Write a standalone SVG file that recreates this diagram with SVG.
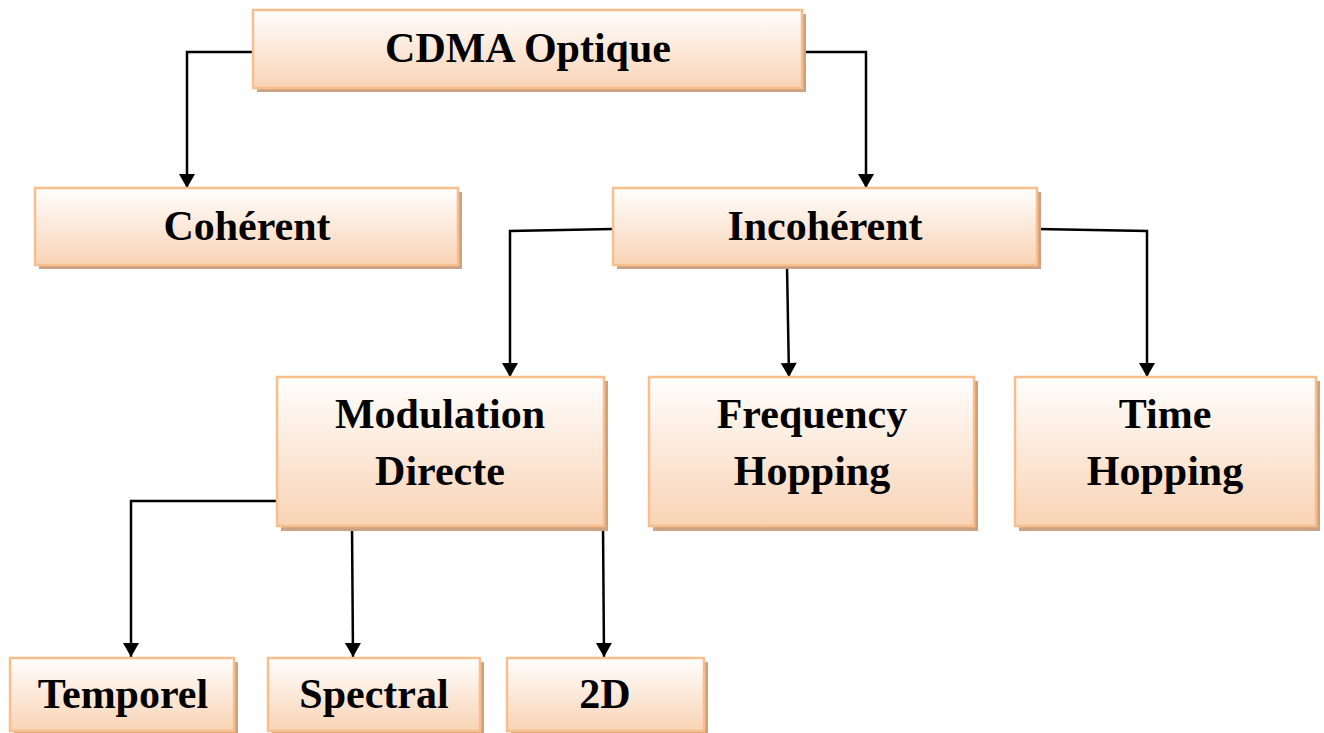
<svg xmlns="http://www.w3.org/2000/svg" width="1324" height="733" viewBox="0 0 1324 733">
  <defs>
    <linearGradient id="peach" x1="0" y1="0" x2="0" y2="1">
      <stop offset="0" stop-color="#fffefd"/>
      <stop offset="1" stop-color="#f9d3b5"/>
    </linearGradient>
    <marker id="arrow" markerUnits="userSpaceOnUse" markerWidth="16" markerHeight="18" viewBox="0 -9 15 18" refX="14" refY="0" orient="auto">
      <path d="M0,-8 L14,0 L0,8 z" fill="#000"/>
    </marker>
    <style>
      .shadow { fill: #cda283; }
      .box { fill: url(#peach); stroke: #f8bf8d; stroke-width: 2.5; }
      .label { font-family: "Liberation Serif", "Times New Roman", serif; font-weight: bold; font-size: 42px; fill: #000; text-anchor: middle; }
      .link { fill: none; stroke: #000; stroke-width: 2.5; marker-end: url(#arrow); }
    </style>
  </defs>
  <rect width="1324" height="733" fill="#fff"/>

  <!-- connectors -->
  <g id="connectors">
    <polyline class="link" points="253,52 187,52 187,188"/>
    <polyline class="link" points="802,52 866,52 866,188"/>
    <polyline class="link" points="613,229 510,231 510,377"/>
    <polyline class="link" points="787,266 789,377"/>
    <polyline class="link" points="1037,229 1147,231 1147,377"/>
    <polyline class="link" points="277,501 131,501 131,657"/>
    <polyline class="link" points="352,525 353,657"/>
    <polyline class="link" points="603,525 604,657"/>
  </g>

  <g id="cdma-optique">
    <rect class="shadow" x="257" y="14" width="549" height="78"/>
    <rect class="box" x="253" y="10" width="549" height="78"/>
    <text class="label" x="528" y="62">CDMA Optique</text>
  </g>

  <g id="coherent">
    <rect class="shadow" x="39" y="192" width="423" height="77"/>
    <rect class="box" x="35" y="188" width="423" height="77"/>
    <text class="label" x="247" y="240">Cohérent</text>
  </g>

  <g id="incoherent">
    <rect class="shadow" x="617" y="192" width="424" height="77"/>
    <rect class="box" x="613" y="188" width="424" height="77"/>
    <text class="label" x="825" y="240">Incohérent</text>
  </g>

  <g id="modulation-directe">
    <rect class="shadow" x="281" y="381" width="327" height="150"/>
    <rect class="box" x="277" y="377" width="327" height="149"/>
    <text class="label" x="440" y="428">Modulation</text>
    <text class="label" x="440" y="485">Directe</text>
  </g>

  <g id="frequency-hopping">
    <rect class="shadow" x="653" y="381" width="325" height="150"/>
    <rect class="box" x="649" y="377" width="325" height="149"/>
    <text class="label" x="812" y="428">Frequency</text>
    <text class="label" x="812" y="485">Hopping</text>
  </g>

  <g id="time-hopping">
    <rect class="shadow" x="1019" y="381" width="301" height="150"/>
    <rect class="box" x="1015" y="377" width="301" height="149"/>
    <text class="label" x="1165" y="428">Time</text>
    <text class="label" x="1165" y="485">Hopping</text>
  </g>

  <g id="temporel">
    <rect class="shadow" x="14" y="662" width="224" height="74"/>
    <rect class="box" x="10" y="658" width="224" height="73"/>
    <text class="label" x="123" y="708">Temporel</text>
  </g>

  <g id="spectral">
    <rect class="shadow" x="272" y="662" width="212" height="74"/>
    <rect class="box" x="268" y="658" width="212" height="73"/>
    <text class="label" x="374" y="708">Spectral</text>
  </g>

  <g id="two-d">
    <rect class="shadow" x="511" y="662" width="197" height="74"/>
    <rect class="box" x="507" y="658" width="197" height="73"/>
    <text class="label" x="605" y="708">2D</text>
  </g>
</svg>
